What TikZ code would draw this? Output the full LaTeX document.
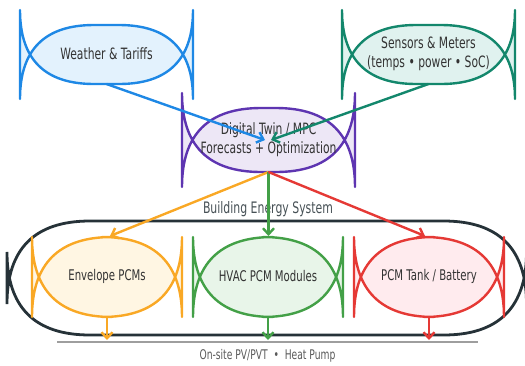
\documentclass[tikz,border=0pt]{standalone}
\usepackage{fontspec}
\setmainfont{DejaVu Sans}[FakeStretch=0.69]
\usetikzlibrary{arrows.meta}
\definecolor{cblue}{HTML}{1E88E5}
\definecolor{fblue}{HTML}{E3F2FD}
\definecolor{cteal}{HTML}{13876C}
\definecolor{fteal}{HTML}{E0F2EF}
\definecolor{cpurple}{HTML}{5E35B1}
\definecolor{fpurple}{HTML}{EDE7F6}
\definecolor{corange}{HTML}{F9A825}
\definecolor{forange}{HTML}{FFF6E3}
\definecolor{cgreen}{HTML}{43A047}
\definecolor{fgreen}{HTML}{E8F5E9}
\definecolor{cred}{HTML}{E53935}
\definecolor{fred}{HTML}{FFEBEE}
\definecolor{cdark}{HTML}{263238}
\definecolor{cgray}{HTML}{9E9E9E}
\definecolor{ctext}{HTML}{333333}
\newcommand\mplbox[6]{%
  \path[#6] ({#1+#5},#4) -- ({#3-#5},#4)
    .. controls ({#3-#5/3},#4) and (#3,{#4-#5/3}) .. (#3,{#4-#5})
    -- (#3,{#2+#5})
    .. controls (#3,{#2+#5/3}) and ({#3-#5/3},#2) .. ({#3-#5},#2)
    -- ({#1+#5},#2)
    .. controls ({#1+#5/3},#2) and (#1,{#2+#5/3}) .. (#1,{#2+#5})
    -- (#1,{#4-#5})
    .. controls (#1,{#4-#5/3}) and ({#1+#5/3},#4) .. cycle;
}
\tikzset{
  boxline/.style={line width=2.4pt, line join=round},
  toptext/.style={text=ctext, font=\fontsize{15.6}{19}\selectfont, align=center, inner sep=0pt},
  bottext/.style={text=ctext, font=\fontsize{14.7}{18}\selectfont, align=center, inner sep=0pt},
  flow/.style={line width=2.4pt, -{Straight Barb[length=6pt,width=11pt]}},
}
\begin{document}
\begin{tikzpicture}[x=1pt,y=-1pt]
\useasboundingbox (0,0) rectangle (525,365);
% top boxes
\mplbox{20}{25}{193}{84}{74}{boxline, draw=cblue, fill=fblue}
\mplbox{342}{25}{515}{84}{74}{boxline, draw=cteal, fill=fteal}
\mplbox{182}{108}{355}{172}{79}{boxline, draw=cpurple, fill=fpurple}
% container
\mplbox{7}{221}{526.5}{335}{83}{line width=2.8pt, draw=cdark}
% bottom boxes
\mplbox{32}{237}{182}{317}{80}{boxline, draw=corange, fill=forange}
\mplbox{193}{237}{343}{317}{80}{boxline, draw=cgreen, fill=fgreen}
\mplbox{354}{237}{504}{317}{80}{boxline, draw=cred, fill=fred}
% bar
\coordinate (barL) at (57,342);
\coordinate (barR) at (478,342);
\draw[cgray, line width=2.4pt] (barL) -- (barR);
% texts
\node[toptext] (weather) at (106.5,54) {Weather \& Tariffs};
\node[toptext] (sensors) at (428.5,54) {Sensors \& Meters\\(temps • power • SoC)};
\node[toptext] (twin) at (268.5,140) {Digital Twin / MPC\\Forecasts + Optimization};
\node[text=cdark!85, font=\fontsize{15.8}{19}\selectfont, inner sep=0pt] (bes) at (268,209) {Building Energy System};
\node[bottext] (env) at (107,276) {Envelope PCMs};
\node[bottext] (hvac) at (268,276) {HVAC PCM Modules};
\node[bottext] (tank) at (429,276) {PCM Tank / Battery};
\node[text=black!65, font=\fontsize{13.3}{16}\selectfont, inner sep=0pt] (onsite) at (267.5,356) {On-site PV/PVT \ • \ Heat Pump};
% anchor points
\coordinate (weather-s) at (106.5,84);
\coordinate (sensors-s) at (428.5,84);
\coordinate (twin-s) at (268.5,172);
\coordinate (twin-l) at (265,140);
\coordinate (twin-r) at (271,140);
\coordinate (env-n) at (110,236);
\coordinate (hvac-n) at (268.5,236);
\coordinate (tank-n) at (425,236);
\coordinate (env-s) at (107,317);
\coordinate (hvac-s) at (268,317);
\coordinate (tank-s) at (429,317);
\coordinate (env-b) at (107,340);
\coordinate (hvac-b) at (268,340);
\coordinate (tank-b) at (429,340);
% arrows
\draw[flow, cblue] (weather-s) -- (twin-l);
\draw[flow, cteal] (sensors-s) -- (twin-r);
\draw[flow, corange] (twin-s) -- (env-n);
\draw[flow, cgreen] (twin-s) -- (hvac-n);
\draw[flow, cred] (twin-s) -- (tank-n);
\draw[flow, corange] (env-s) -- (env-b);
\draw[flow, cgreen] (hvac-s) -- (hvac-b);
\draw[flow, cred] (tank-s) -- (tank-b);
\end{tikzpicture}
\end{document}
